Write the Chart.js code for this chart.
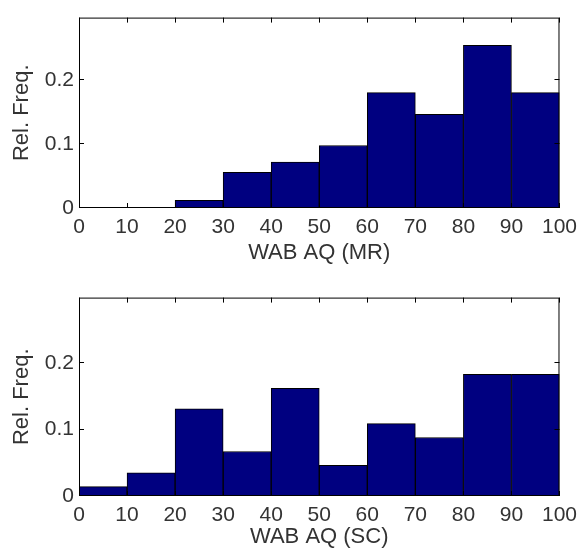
<!DOCTYPE html>
<html>
<head>
<meta charset="utf-8">
<script src="https://cdn.jsdelivr.net/npm/chart.js@4"></script>
<style>
  html, body { margin: 0; padding: 0; background: #fff; }
  canvas { display: block; }
</style>
</head>
<body>
<canvas id="mrChart" width="584" height="280"></canvas>
<canvas id="scChart" width="584" height="279"></canvas>
<script>
// histogram bins (left edge of each 10-point bin)
const binStarts = [0, 10, 20, 30, 40, 50, 60, 70, 80, 90];
const binWidth = 10;
// relative frequencies per bin
const mrFreq = [0, 0, 0.012, 0.056, 0.072, 0.098, 0.181, 0.147, 0.255, 0.181];
const scFreq = [0.014, 0.035, 0.131, 0.067, 0.162, 0.046, 0.109, 0.088, 0.183, 0.183];
const yTicks = [0, 0.1, 0.2];
const xTicks = [0, 10, 20, 30, 40, 50, 60, 70, 80, 90, 100];

const FONT = '"Liberation Sans", Arial, Helvetica, sans-serif';
const TEXT = '#333';

// box around the axes plus inward ticks on all four sides
const boxTicks = {
    id: 'boxTicks',
    afterDraw(chart) {
        const { ctx, chartArea: a, scales: { x, y } } = chart;
        const len = 5;
        ctx.save();
        ctx.strokeStyle = '#000';
        ctx.lineWidth = 1;
        ctx.beginPath();
        xTicks.forEach(v => {
            const px = Math.round(x.getPixelForValue(v)) + 0.5;
            ctx.moveTo(px, a.top); ctx.lineTo(px, a.top + len);
            ctx.moveTo(px, a.bottom); ctx.lineTo(px, a.bottom - len);
        });
        yTicks.forEach(v => {
            const py = Math.round(y.getPixelForValue(v)) - 0.5;
            ctx.moveTo(a.left, py); ctx.lineTo(a.left + len, py);
            ctx.moveTo(a.right, py); ctx.lineTo(a.right - len, py);
        });
        ctx.stroke();
        ctx.strokeRect(a.left + 0.5, a.top + 0.5, a.right - a.left - 1, a.bottom - a.top - 1);
        ctx.restore();
    }
};

const makeHist = (canvasId, freq, xTitle, pad, axisHeight, titlePad) => {
    new Chart(document.getElementById(canvasId), {
        type: 'bar',
        data: {
            datasets: [{
                data: binStarts.map((s, i) => ({ x: s + binWidth / 2, y: freq[i] })),
                backgroundColor: '#000080',
                borderColor: '#000',
                borderWidth: 1,
                borderSkipped: false,
                barPercentage: 1,
                categoryPercentage: 1
            }]
        },
        options: {
            responsive: false,
            animation: false,
            events: [],
            layout: { padding: pad },
            plugins: { legend: { display: false }, tooltip: { enabled: false } },
            scales: {
                x: {
                    type: 'linear',
                    min: 0,
                    max: 100,
                    offset: false,
                    afterBuildTicks: s => { s.ticks = xTicks.map(v => ({ value: v })); },
                    afterFit: s => { s.height = axisHeight; },
                    grid: { display: false, drawTicks: false },
                    border: { display: false },
                    ticks: { padding: 7, maxRotation: 0, autoSkip: false, color: TEXT, font: { family: FONT, size: 21 } },
                    title: { display: true, text: xTitle, color: TEXT, padding: { top: 0, bottom: titlePad }, font: { family: FONT, size: 22 } }
                },
                y: {
                    min: 0,
                    max: 0.2985,
                    afterBuildTicks: s => { s.ticks = yTicks.map(v => ({ value: v })); },
                    afterFit: s => { s.width = 79; },
                    grid: { display: false, drawTicks: false },
                    border: { display: false },
                    ticks: {
                        padding: 5,
                        color: TEXT,
                        font: { family: FONT, size: 21 },
                        callback: v => v === 0 ? '0' : v.toFixed(1)
                    },
                    title: { display: true, text: 'Rel. Freq.', color: TEXT, padding: { top: 9, bottom: 0 }, font: { family: FONT, size: 22 } }
                }
            }
        },
        plugins: [boxTicks]
    });
};

makeHist('mrChart', mrFreq, 'WAB AQ (MR)', { top: 7, right: 22, left: 0, bottom: 0 }, 72, 14);
makeHist('scChart', scFreq, 'WAB AQ (SC)', { top: 15, right: 22, left: 0, bottom: 0 }, 63, 9);
</script>
</body>
</html>
